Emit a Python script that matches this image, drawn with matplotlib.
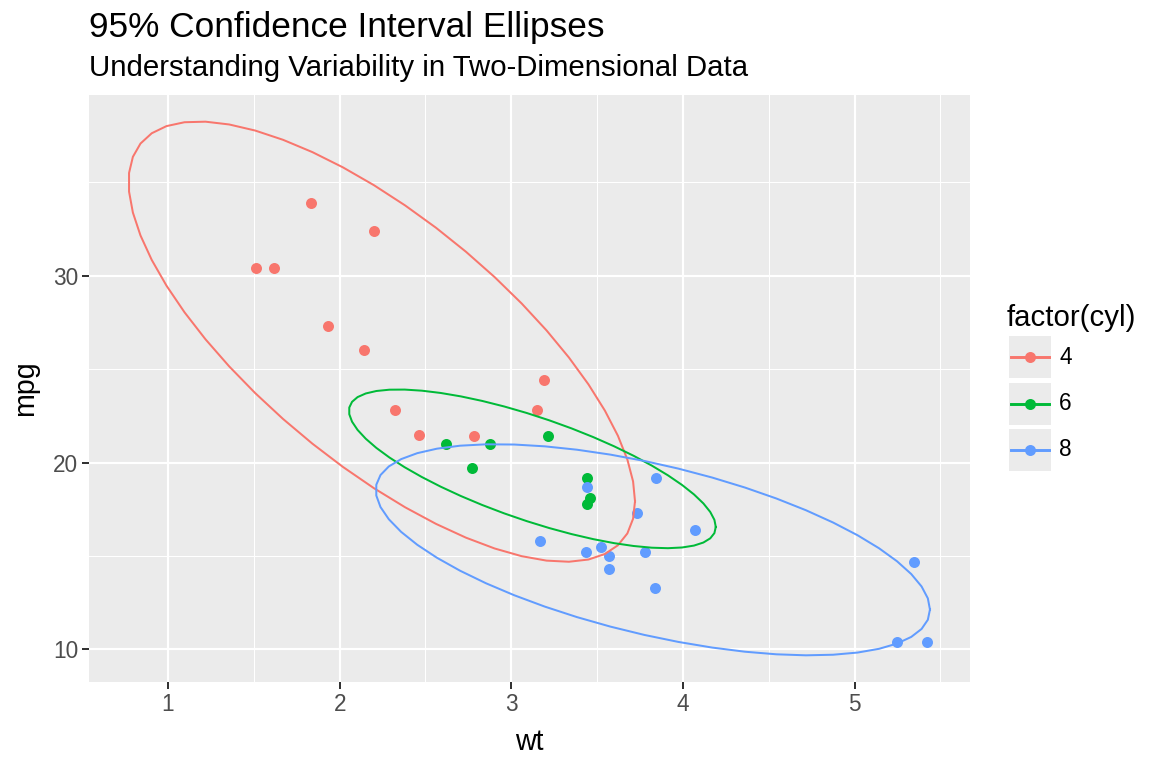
import numpy as np
import matplotlib
matplotlib.use('Agg')
import matplotlib.pyplot as plt
from matplotlib.patches import Rectangle

plt.rcParams['font.family'] = ['Liberation Sans', 'DejaVu Sans']

# mtcars: weight, mpg, cylinders
wt = [2.620, 2.875, 2.320, 3.215, 3.440, 3.460, 3.570, 3.190, 3.150, 3.440, 3.440,
      4.070, 3.730, 3.780, 5.250, 5.424, 5.345, 2.200, 1.615, 1.835, 2.465, 3.520,
      3.435, 3.840, 3.845, 1.935, 2.140, 1.513, 3.170, 2.770, 3.570, 2.780]
mpg = [21.0, 21.0, 22.8, 21.4, 18.7, 18.1, 14.3, 24.4, 22.8, 19.2, 17.8,
       16.4, 17.3, 15.2, 10.4, 10.4, 14.7, 32.4, 30.4, 33.9, 21.5, 15.5,
       15.2, 13.3, 19.2, 27.3, 26.0, 30.4, 15.8, 19.7, 15.0, 21.4]
cyl = [6, 6, 4, 6, 8, 6, 8, 4, 4, 6, 6,
       8, 8, 8, 8, 8, 8, 4, 4, 4, 4, 8,
       8, 8, 8, 4, 4, 4, 8, 6, 8, 4]
groups = [4, 6, 8]
colors = {4: '#F8766D', 6: '#00BA38', 8: '#619CFF'}
x_ticks = [1, 2, 3, 4, 5]
y_ticks = [10, 20, 30]

wt = np.array(wt)
mpg = np.array(mpg)
cyl = np.array(cyl)


def cov_trob(x, nu=5, maxit=25, tol=0.01):
    # robust t-based covariance, same steps as MASS::cov.trob
    n, p = x.shape
    wts = np.ones(n)
    loc = x.mean(axis=0)
    w = np.sqrt(wts)
    for _ in range(maxit):
        w0 = w
        X = x - loc
        _, d, vt = np.linalg.svd(np.sqrt(w / w.sum())[:, None] * X, full_matrices=False)
        wX = X @ vt.T @ np.diag(1 / d)
        Q = (wX ** 2).sum(axis=1)
        w = wts * (nu + p) / (nu + Q)
        loc = (w[:, None] * x).sum(axis=0) / w.sum()
        if np.all(np.abs(w - w0) < tol):
            break
    sX = np.sqrt(w)[:, None] * X
    return loc, sX.T @ sX / wts.sum()


def ellipse(x, level=0.95, segments=51):
    center, shape = cov_trob(x)
    dfd = len(x) - 1
    # F quantile for dfn = 2 has a closed form
    fq = dfd / 2 * ((1 - level) ** (-2 / dfd) - 1)
    radius = np.sqrt(2 * fq)
    ang = np.arange(segments + 1) * 2 * np.pi / segments
    circle = np.column_stack([np.cos(ang), np.sin(ang)])
    R = np.linalg.cholesky(shape).T
    return center + radius * circle @ R


fig = plt.figure(figsize=(12, 8), dpi=96)
ax = fig.add_axes([89 / 1152, 1 - 682 / 768, (970 - 89) / 1152, (682 - 95) / 768])
ax.set_facecolor('#EBEBEB')

all_x = list(wt)
all_y = list(mpg)
for g in groups:
    m = cyl == g
    ax.scatter(wt[m], mpg[m], s=68, color=colors[g], linewidths=0, zorder=3)
for g in groups:
    m = cyl == g
    e = ellipse(np.column_stack([wt[m], mpg[m]]))
    ax.plot(e[:, 0], e[:, 1], color=colors[g], lw=1.5, zorder=4)
    all_x += list(e[:, 0])
    all_y += list(e[:, 1])

ax.set_xticks(x_ticks)
ax.set_yticks(y_ticks)
ax.set_xticks([t + 0.5 for t in [0] + x_ticks], minor=True)
ax.set_yticks([5, 15, 25, 35], minor=True)

xr = max(all_x) - min(all_x)
yr = max(all_y) - min(all_y)
ax.set_xlim(min(all_x) - 0.05 * xr, max(all_x) + 0.05 * xr)
ax.set_ylim(min(all_y) - 0.05 * yr, max(all_y) + 0.05 * yr)

ax.grid(which='major', color='white', lw=1.6, zorder=0)
ax.grid(which='minor', color='white', lw=0.8, zorder=0)
ax.set_axisbelow(True)
for s in ax.spines.values():
    s.set_visible(False)
ax.tick_params(which='major', length=5, width=1.5, color='#333333',
               labelsize=17, labelcolor='#4D4D4D', pad=3)
ax.tick_params(which='minor', length=0)

ax.set_xlabel('wt', fontsize=21.5, va='center')
ax.set_ylabel('mpg', fontsize=21.5, va='center')
ax.xaxis.set_label_coords(0.5, (682 - 742) / 587)
ax.yaxis.set_label_coords((25 - 89) / 881, 0.5)

fig.text(89 / 1152, 1 - 27 / 768, '95% Confidence Interval Ellipses',
         fontsize=26.4, va='center', ha='left')
fig.text(89 / 1152, 1 - 68 / 768, 'Understanding Variability in Two-Dimensional Data',
         fontsize=22, va='center', ha='left')

# legend drawn by hand, ggplot style keys
lg = fig.add_axes([0, 0, 1, 1], facecolor='none')
lg.set_xlim(0, 1152)
lg.set_ylim(768, 0)
lg.axis('off')
lg.text(1007, 318, 'factor(cyl)', fontsize=22, va='center', ha='left')
for i, g in enumerate(groups):
    yc = 357 + i * 46.5
    lg.add_patch(Rectangle((1009, yc - 21), 42, 42, color='#EBEBEB', lw=0))
    lg.plot([1011, 1049], [yc, yc], color=colors[g], lw=2.2)
    lg.scatter([1030], [yc], s=68, color=colors[g], linewidths=0, zorder=3)
    lg.text(1059, yc, str(g), fontsize=17, va='center', ha='left')

fig.savefig('out.png', dpi=96)
